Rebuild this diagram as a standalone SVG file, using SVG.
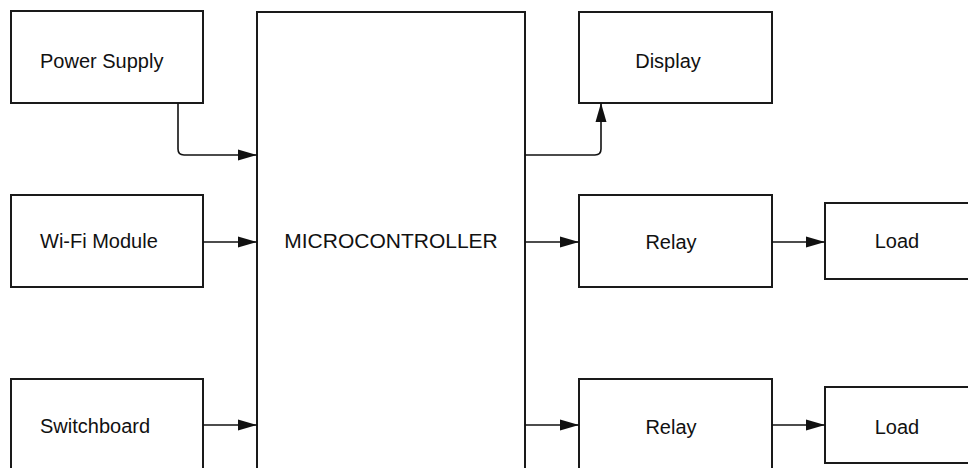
<svg xmlns="http://www.w3.org/2000/svg" width="968" height="468" viewBox="0 0 968 468">
<defs>
<style>
.box{fill:#fff;stroke:#1a1a1a;stroke-width:2}
.lbl{font-family:"Liberation Sans",Arial,sans-serif;font-size:20px;fill:#111}
.c{text-anchor:middle}
.big{font-size:21px}
.wire{fill:none;stroke:#111;stroke-width:1.6}
</style>
<marker id="ah" markerWidth="19" markerHeight="12" refX="19" refY="6" orient="auto" markerUnits="userSpaceOnUse">
<path d="M0,0.5 L19,6 L0,11.5 Z" fill="#111"/>
</marker>
</defs>
<rect width="968" height="468" fill="#fff"/>
<g id="power-supply"><rect class="box" x="11" y="11" width="192" height="92"/><text class="lbl" x="40" y="68">Power Supply</text></g>
<g id="wifi-module"><rect class="box" x="11" y="195" width="192" height="92"/><text class="lbl" x="40" y="248">Wi-Fi Module</text></g>
<g id="switchboard"><rect class="box" x="11" y="379" width="192" height="110"/><text class="lbl" x="40" y="433">Switchboard</text></g>
<g id="microcontroller"><rect class="box" x="257" y="12" width="268" height="480"/><text class="lbl c big" x="391" y="248">MICROCONTROLLER</text></g>
<g id="display"><rect class="box" x="579" y="12" width="193" height="91"/><text class="lbl c" x="668" y="68">Display</text></g>
<g id="relay1"><rect class="box" x="579" y="195" width="193" height="92"/><text class="lbl c" x="671" y="249">Relay</text></g>
<g id="relay2"><rect class="box" x="579" y="379" width="193" height="110"/><text class="lbl c" x="671" y="434">Relay</text></g>
<g id="load1"><rect class="box" x="825" y="203" width="150" height="76"/><text class="lbl c" x="897" y="248">Load</text></g>
<g id="load2"><rect class="box" x="825" y="387" width="150" height="76"/><text class="lbl c" x="897" y="434">Load</text></g>
<g id="connectors">
<path class="wire" d="M178,103 V149 Q178,155 184,155 H257" marker-end="url(#ah)"/>
<path class="wire" d="M525,155 H595 Q601,155 601,149 V103" marker-end="url(#ah)"/>
<path class="wire" d="M203,242 H257" marker-end="url(#ah)"/>
<path class="wire" d="M203,425 H257" marker-end="url(#ah)"/>
<path class="wire" d="M525,242 H579" marker-end="url(#ah)"/>
<path class="wire" d="M525,425 H579" marker-end="url(#ah)"/>
<path class="wire" d="M772,242 H825" marker-end="url(#ah)"/>
<path class="wire" d="M772,425 H825" marker-end="url(#ah)"/>
</g>
</svg>
